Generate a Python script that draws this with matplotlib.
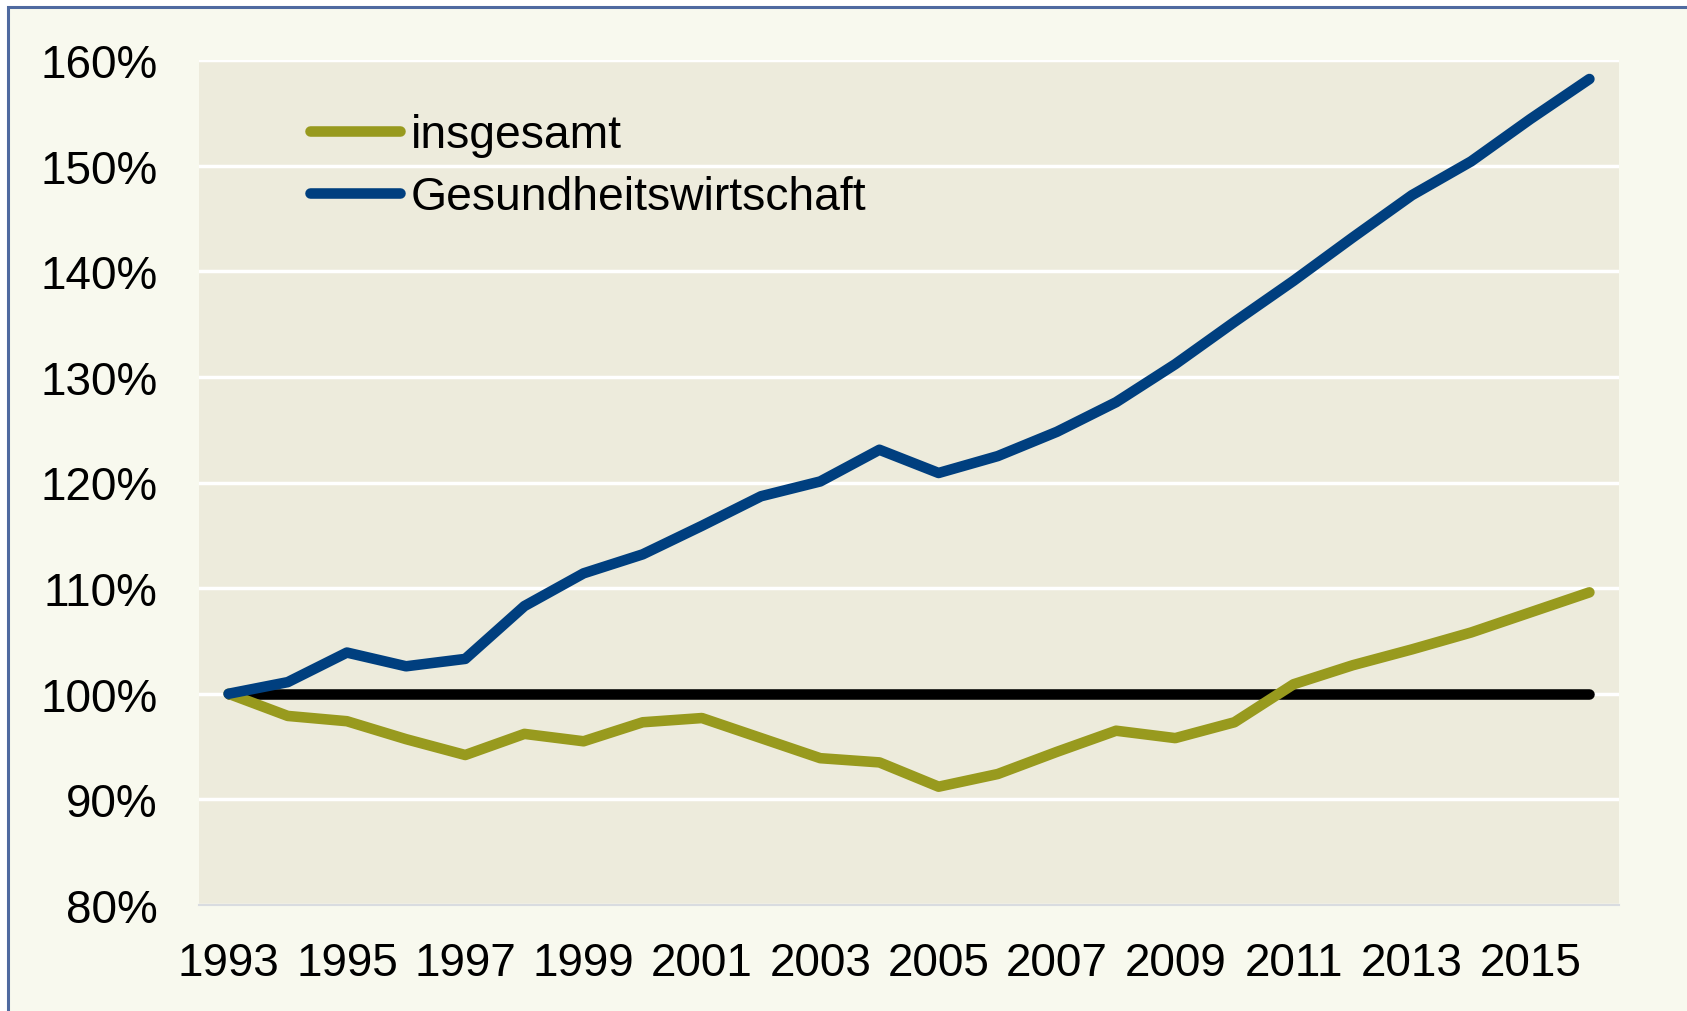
import matplotlib.pyplot as plt
from matplotlib.patches import Rectangle
import numpy as np

# Data (index 1993 = 100%)
years = list(range(1993, 2017))
insgesamt = [100.0, 97.9, 97.4, 95.7, 94.2, 96.2, 95.5, 97.3, 97.7, 95.8, 93.9, 93.5,
             91.2, 92.4, 94.5, 96.5, 95.8, 97.3, 100.9, 102.7, 104.2, 105.8, 107.7, 109.6]
gesundheit = [100.0, 101.1, 103.9, 102.6, 103.3, 108.3, 111.4, 113.2, 115.9, 118.7, 120.1, 123.1,
              120.9, 122.5, 124.8, 127.6, 131.2, 135.2, 139.1, 143.2, 147.2, 150.4, 154.4, 158.2]
baseline = [100.0] * len(years)
yticks = [80, 90, 100, 110, 120, 130, 140, 150, 160]

plt.rcParams['font.family'] = ['Liberation Sans', 'DejaVu Sans']

fig = plt.figure(figsize=(16.87, 10.12), dpi=100, facecolor='white')

# outer frame (cut off at right and bottom)
frame = Rectangle((8 / 1687, -0.1), 1.2, 1 - 8 / 1012 + 0.1,
                  transform=fig.transFigure, facecolor='#F8F9EE',
                  edgecolor='#4F6AA0', linewidth=2.2, zorder=-10)
fig.add_artist(frame)

ax = fig.add_axes([199 / 1687, 1 - 906 / 1012, 1420 / 1687, 845 / 1012])
ax.set_facecolor('#EDEBDC')

x = np.arange(len(years))
lw = 7.6
ax.plot(x, baseline, color='black', lw=lw, solid_capstyle='round', zorder=3)
ax.plot(x, insgesamt, color='#989A1E', lw=lw, solid_capstyle='round',
        solid_joinstyle='round', label='insgesamt', zorder=4)
ax.plot(x, gesundheit, color='#003F7F', lw=lw, solid_capstyle='round',
        solid_joinstyle='round', label='Gesundheitswirtschaft', zorder=5)

ax.set_xlim(-0.5, len(years) - 0.5)
ax.set_ylim(80, 160)
ax.set_yticks(yticks)
ax.set_yticklabels([f'{v}%' for v in yticks])
ax.set_xticks(x[::2])
ax.set_xticklabels([str(y) for y in years[::2]])
ax.tick_params(axis='both', length=0, labelsize=33, colors='black')
ax.tick_params(axis='y', pad=30)
ax.tick_params(axis='x', pad=26)

ax.grid(axis='y', color='white', lw=2.5, zorder=1)
ax.set_axisbelow(True)
for s in ['top', 'right', 'left']:
    ax.spines[s].set_visible(False)
ax.spines['bottom'].set_color('#D9DCE0')
ax.spines['bottom'].set_linewidth(1.5)

leg = ax.legend(loc='upper left', bbox_to_anchor=(0.078, 0.937), frameon=False,
                fontsize=33.3, handlelength=1.95, handletextpad=0.24,
                labelspacing=0.38, borderpad=0, borderaxespad=0)
for h in leg.get_lines():
    h.set_solid_capstyle('round')

fig.savefig('out.png', dpi=100, facecolor=fig.get_facecolor())
